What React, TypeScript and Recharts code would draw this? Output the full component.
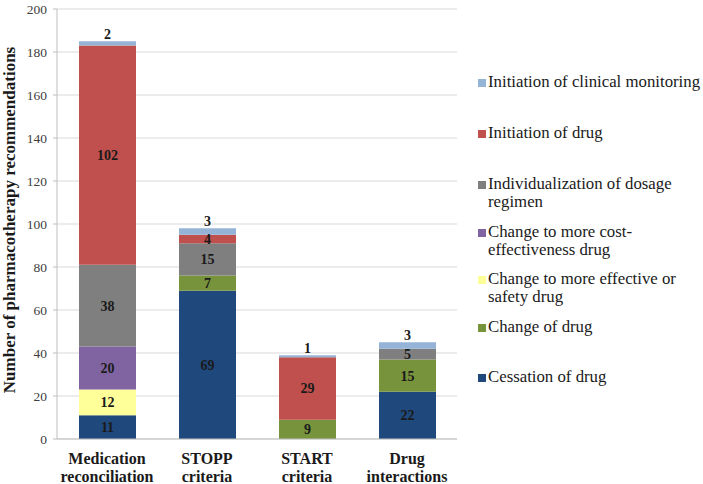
import { Bar, BarChart, CartesianGrid, LabelList, XAxis, YAxis } from "recharts";

const SERIF = "Liberation Serif, DejaVu Serif, serif";
const INK = "#1a1a1a";

const categories = [
  ["Medication", "reconciliation"],
  ["STOPP", "criteria"],
  ["START", "criteria"],
  ["Drug", "interactions"],
];

// bottom to top of each stack
const cessation = [11, 69, 0, 22];
const changeOfDrug = [0, 7, 9, 15];
const moreEffective = [12, 0, 0, 0];
const costEffective = [20, 0, 0, 0];
const individualization = [38, 15, 0, 5];
const initiationDrug = [102, 4, 29, 0];
const monitoring = [2, 3, 1, 3];

const yTicks = [0, 20, 40, 60, 80, 100, 120, 140, 160, 180, 200];

const series = [
  { key: "cessation", name: ["Cessation of drug"], color: "#1F497D", values: cessation },
  { key: "change", name: ["Change of drug"], color: "#77933C", values: changeOfDrug },
  { key: "effective", name: ["Change to more effective or", "safety drug"], color: "#FFFF99", values: moreEffective },
  { key: "cost", name: ["Change to more cost-", "effectiveness drug"], color: "#8064A2", values: costEffective },
  { key: "indiv", name: ["Individualization of dosage", "regimen"], color: "#7F7F7F", values: individualization },
  { key: "initDrug", name: ["Initiation of drug"], color: "#C0504D", values: initiationDrug },
  { key: "monitor", name: ["Initiation of clinical monitoring"], color: "#95B3D7", values: monitoring },
];

const data = categories.map((c, i) => {
  const row: any = { cat: c.join("\n") };
  series.forEach((s) => (row[s.key] = s.values[i]));
  return row;
});

const labelStyle = { fontFamily: SERIF, fontSize: 14, fontWeight: 700, fill: INK };

function CatTick({ x, y, payload }: any) {
  const lines = String(payload.value).split("\n");
  return (
    <text x={x} y={y + 17} textAnchor="middle" style={{ fontFamily: SERIF }} fontSize={16} fontWeight={700} fill={INK}>
      {lines.map((l, i) => (
        <tspan key={i} x={x} dy={i === 0 ? 0 : 18}>
          {l}
        </tspan>
      ))}
    </text>
  );
}

function YTitle() {
  return (
    <text
      x={0}
      y={0}
      transform="translate(15,220) rotate(-90)"
      textAnchor="middle"
      style={{ fontFamily: SERIF }}
      fontSize={17}
      fontWeight={700}
      fill={INK}
    >
      Number of pharmacotherapy recommendations
    </text>
  );
}

// legend item top offsets (px), top to bottom
const legendTops = [0, 51, 102, 150, 197, 245, 295];

function SideLegend() {
  const items = [...series].reverse();
  return (
    <div style={{ position: "absolute", left: 476, top: 73, fontFamily: SERIF, fontSize: 16.8, color: INK }}>
      {items.map((s, i) => (
        <div key={s.key} style={{ position: "absolute", top: legendTops[i], left: 0, width: 228, lineHeight: "18px" }}>
          <span
            style={{ position: "absolute", left: 2, top: 6, width: 8, height: 8, background: s.color }}
          />
          <div style={{ marginLeft: 12, whiteSpace: "nowrap" }}>
            {s.name.map((n, j) => (
              <div key={j}>{n}</div>
            ))}
          </div>
        </div>
      ))}
    </div>
  );
}

function zeroHide(v: any) {
  return v ? v : "";
}

export default function App() {
  return (
    <div style={{ position: "absolute", left: 0, top: 0, width: 703, height: 484, background: "#fff", fontFamily: SERIF }}>
      <BarChart width={703} height={484} data={data} margin={{ top: 9, right: 246, left: 0, bottom: 0 }}>
        <CartesianGrid vertical={false} stroke="#d9d9d9" />
        <XAxis
          dataKey="cat"
          tick={<CatTick />}
          tickLine={false}
          axisLine={{ stroke: "#bfbfbf" }}
          interval={0}
          height={45}
        />
        <YAxis
          domain={[0, 200]}
          ticks={yTicks}
          width={57}
          tickSize={4}
          tickMargin={6}
          tickLine={{ stroke: "#bfbfbf" }}
          axisLine={{ stroke: "#bfbfbf" }}
          tick={{ style: { fontFamily: SERIF }, fontSize: 13.5, fill: "#404040" }}
          interval={0}
        />
        {series.map((s, idx) => (
          <Bar key={s.key} dataKey={s.key} stackId="a" fill={s.color} barSize={57} isAnimationActive={false}>
            <LabelList
              dataKey={s.key}
              position={idx === series.length - 1 ? "top" : "center"}
              offset={idx === series.length - 1 ? 2 : 5}
              formatter={zeroHide}
              style={labelStyle}
            />
          </Bar>
        ))}
        <YTitle />
      </BarChart>
      <SideLegend />
    </div>
  );
}
